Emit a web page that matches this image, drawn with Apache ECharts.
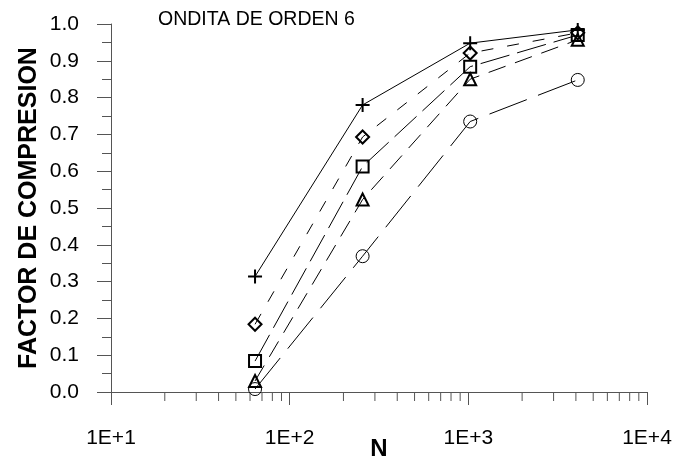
<!DOCTYPE html>
<html>
<head>
<meta charset="utf-8">
<script src="https://cdn.jsdelivr.net/npm/echarts@6/dist/echarts.min.js"></script>
<style>
  html, body { margin: 0; padding: 0; background: #fff; }
  #chart { width: 677px; height: 459px; }
</style>
</head>
<body>
<div id="chart"></div>
<script>
// Signal length N (log scale) and compression factor per series
const sizesN = [64, 256, 1024, 4096];
const serieCruz = [0.314, 0.780, 0.948, 0.984];
const serieRombo = [0.184, 0.693, 0.921, 0.976];
const serieCuadrado = [0.084, 0.613, 0.884, 0.970];
const serieTriangulo = [0.030, 0.523, 0.850, 0.957];
const serieCirculo = [0.008, 0.369, 0.735, 0.848];

// Log-axis minor tick positions (2..9 in each decade)
const minorTicksX = [20, 30, 40, 50, 60, 70, 80, 90,
                     200, 300, 400, 500, 600, 700, 800, 900,
                     2000, 3000, 4000, 5000, 6000, 7000, 8000, 9000];

const FONT = 'Liberation Sans, Arial, sans-serif';
const AXIS_COLOR = '#555';

const chart = echarts.init(document.getElementById('chart'), null, { renderer: 'canvas' });

function pairs(vals) {
  return sizesN.map((n, i) => [n, vals[i]]);
}

function lineSeries(vals, symbol, size, dash, borderWidth, filled) {
  return {
    type: 'line',
    data: pairs(vals),
    symbol: symbol,
    symbolSize: size,
    showAllSymbol: true,
    lineStyle: { color: '#000', width: 1, type: dash },
    itemStyle: filled
      ? { color: '#000', borderWidth: 0 }
      : { color: 'rgba(0,0,0,0)', borderColor: '#000', borderWidth: borderWidth },
    emphasis: { disabled: true },
    silent: true,
    z: 3
  };
}

const option = {
  animation: false,
  grid: {
    left: 111, right: 30, top: 24, bottom: 67,
    containLabel: false,
    outerBoundsMode: 'none'
  },
  graphic: [{
    type: 'text',
    left: 158,
    top: 10,
    style: { text: 'ONDITA DE ORDEN 6', font: '19.5px ' + FONT, fill: '#000' }
  }],
  xAxis: {
    type: 'log',
    logBase: 10,
    min: 10,
    max: 10000,
    name: 'N',
    nameLocation: 'middle',
    nameGap: 45,
    nameMoveOverlap: false,
    nameTextStyle: { fontFamily: FONT, fontSize: 24, fontWeight: 'bold', color: '#000' },
    axisLine: { show: true, lineStyle: { color: AXIS_COLOR, width: 1 } },
    axisTick: { show: true, inside: false, length: 13, lineStyle: { color: AXIS_COLOR } },
    minorTick: { show: false },
    splitLine: { show: false },
    axisLabel: {
      margin: 36,
      fontFamily: FONT,
      fontSize: 21,
      color: '#000',
      formatter: v => '1E+' + Math.round(Math.log10(v))
    }
  },
  yAxis: {
    type: 'value',
    min: 0,
    max: 1,
    interval: 0.1,
    name: 'FACTOR DE COMPRESION',
    nameLocation: 'middle',
    nameGap: 69,
    nameMoveOverlap: false,
    nameTextStyle: { fontFamily: FONT, fontSize: 25, fontWeight: 'bold', color: '#000' },
    axisLine: { show: true, lineStyle: { color: AXIS_COLOR, width: 1 } },
    axisTick: { show: true, inside: false, length: 14, lineStyle: { color: AXIS_COLOR } },
    minorTick: { show: true, splitNumber: 2, length: 9, lineStyle: { color: AXIS_COLOR } },
    splitLine: { show: false },
    axisLabel: {
      margin: 32,
      fontFamily: FONT,
      fontSize: 21,
      color: '#000',
      formatter: v => v.toFixed(1)
    }
  },
  series: [
    lineSeries(serieCirculo, 'circle', 13, [40, 12], 1, false),
    lineSeries(serieTriangulo, 'triangle', 12, [18, 10], 2, false),
    lineSeries(serieCuadrado, 'rect', 12, [30, 8], 2, false),
    lineSeries(serieRombo, 'diamond', 13, [12, 14], 2, false),
    lineSeries(serieCruz, 'path://M6,0H8V6H14V8H8V14H6V8H0V6H6Z', 14, 'solid', 0, true),
    {
      // minor ticks for the logarithmic N axis
      type: 'custom',
      silent: true,
      clip: false,
      data: minorTicksX.map(v => [v, 0]),
      encode: { x: 0, y: 1 },
      renderItem: function (params, api) {
        const p = api.coord([api.value(0), 0]);
        return {
          type: 'line',
          shape: { x1: p[0], y1: p[1], x2: p[0], y2: p[1] + 9 },
          style: { stroke: AXIS_COLOR, lineWidth: 1 }
        };
      },
      z: 1
    }
  ]
};

chart.setOption(option);
</script>
</body>
</html>
